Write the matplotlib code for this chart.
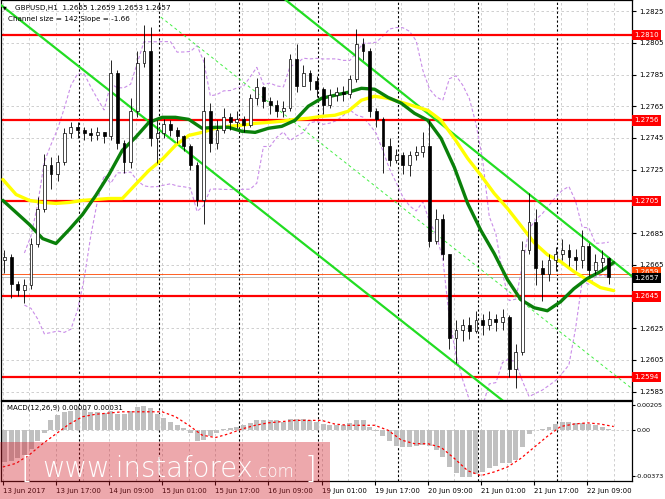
import numpy as np
import pandas as pd
import matplotlib
matplotlib.use("Agg")
import matplotlib.pyplot as plt
from matplotlib.patches import Rectangle

# ---- price data, 2-hour candles (hours counted from 13 Jun 00:00, weekend skipped)
first_open = 1.2668
closes = [
    1.2670, 1.2653, 1.2649, 1.2652, 1.2678, 1.2700, 1.2728, 1.2722, 1.2730, 1.2748,
    1.2752, 1.2750, 1.2748, 1.2747, 1.2749, 1.2746, 1.2786, 1.2742, 1.2730, 1.2762,
    1.2792, 1.2800, 1.2745, 1.2748, 1.2754, 1.2750, 1.2746, 1.2740, 1.2728, 1.2706,
    1.2762, 1.2742, 1.2750, 1.2758, 1.2755, 1.2757, 1.2753, 1.2770, 1.2777, 1.2768,
    1.2766, 1.2762, 1.2764, 1.2795, 1.2778, 1.2786, 1.2781, 1.2776, 1.2766, 1.2772,
    1.2774, 1.2773, 1.2782, 1.2804, 1.2800, 1.2762, 1.2757, 1.2740, 1.2731, 1.2734,
    1.2728, 1.2734, 1.2736, 1.2740, 1.2680, 1.2694, 1.2672, 1.2619, 1.2624, 1.2627,
    1.2623, 1.2630, 1.2627, 1.2631, 1.2629, 1.2632, 1.2599, 1.2610, 1.2674, 1.2692,
    1.2663, 1.2659, 1.2668, 1.2672, 1.2674, 1.2670, 1.2668, 1.2677, 1.2662, 1.2667,
    1.2669, 1.2657]
highs = [
    1.2674, 1.2672, 1.2655, 1.2656, 1.2682, 1.2708, 1.2735, 1.2733, 1.2734, 1.2751,
    1.2755, 1.2755, 1.2752, 1.2751, 1.2752, 1.2749, 1.2794, 1.2788, 1.2744, 1.2770,
    1.2800, 1.2816, 1.2815, 1.2756, 1.2757, 1.2756, 1.2752, 1.2747, 1.2741, 1.2730,
    1.2796, 1.2767, 1.2756, 1.2764, 1.2761, 1.2762, 1.2759, 1.2773, 1.2783, 1.2778,
    1.2771, 1.2769, 1.2768, 1.2798, 1.2804, 1.2791, 1.2788, 1.2784, 1.2777, 1.2776,
    1.2777, 1.2778, 1.2785, 1.2814, 1.2808, 1.2802, 1.2764, 1.2758, 1.2745, 1.2738,
    1.2736, 1.2737, 1.2740, 1.2749, 1.2756, 1.2700, 1.2697, 1.2672, 1.2630, 1.2631,
    1.2632, 1.2636, 1.2634, 1.2636, 1.2634, 1.2637, 1.2633, 1.2615, 1.2680, 1.2710,
    1.2700, 1.2668, 1.2672, 1.2676, 1.2681, 1.2678, 1.2675, 1.2687, 1.2679, 1.2672,
    1.2674, 1.2670]
lows = [
    1.2660, 1.2644, 1.2645, 1.2641, 1.2650, 1.2676, 1.2698, 1.2713, 1.2718, 1.2728,
    1.2745, 1.2745, 1.2744, 1.2743, 1.2744, 1.2742, 1.2744, 1.2738, 1.2723, 1.2726,
    1.2758, 1.2790, 1.2740, 1.2729, 1.2745, 1.2746, 1.2742, 1.2737, 1.2725, 1.2702,
    1.2691, 1.2736, 1.2738, 1.2748, 1.2750, 1.2751, 1.2749, 1.2752, 1.2766, 1.2764,
    1.2760, 1.2758, 1.2758, 1.2762, 1.2774, 1.2778, 1.2775, 1.2771, 1.2760, 1.2764,
    1.2768, 1.2768, 1.2770, 1.2780, 1.2794, 1.2758, 1.2752, 1.2723, 1.2727, 1.2729,
    1.2722, 1.2721, 1.2731, 1.2733, 1.2676, 1.2678, 1.2668, 1.2612, 1.2603, 1.2617,
    1.2618, 1.2622, 1.2621, 1.2624, 1.2623, 1.2624, 1.2594, 1.2587, 1.2608, 1.2672,
    1.2652, 1.2642, 1.2655, 1.2661, 1.2668, 1.2664, 1.2662, 1.2663, 1.2658, 1.2659,
    1.2661, 1.2653]

# moving averages every 4 hours
ma_hours = list(range(1, 186, 4))
yellow_ma = [
    1.27188, 1.27093, 1.27056, 1.27043, 1.27037, 1.27043, 1.27056, 1.27062, 1.27068, 1.27068,
    1.27157, 1.27245, 1.27315, 1.27403, 1.27466, 1.27485, 1.27511, 1.27523, 1.27530, 1.27542,
    1.27548, 1.27555, 1.27567, 1.27574, 1.27586, 1.27593, 1.27618, 1.27688, 1.27713, 1.27700,
    1.27675, 1.27650, 1.27624, 1.27561, 1.27447, 1.27321, 1.27214, 1.27100, 1.27005, 1.26898,
    1.26790, 1.26714, 1.26670, 1.26607, 1.26556, 1.26506, 1.26487]
green_ma = [
    1.27056, 1.26980, 1.26904, 1.26815, 1.26784, 1.26872, 1.26967, 1.27087, 1.27220, 1.27372,
    1.27454, 1.27548, 1.27580, 1.27580, 1.27567, 1.27511, 1.27517, 1.27517, 1.27492, 1.27485,
    1.27511, 1.27523, 1.27561, 1.27650, 1.27700, 1.27719, 1.27738, 1.27763, 1.27757, 1.27706,
    1.27669, 1.27605, 1.27561, 1.27447, 1.27264, 1.27037, 1.26866, 1.26721, 1.26556, 1.26430,
    1.26379, 1.26360, 1.26417, 1.26499, 1.26563, 1.26607, 1.26664]

# MACD
macd_hist = [
    -0.0026, -0.0025, -0.0023, -0.0020, -0.0015, -0.0009, -0.0002, 0.0008, 0.0012, 0.0015,
    0.0016, 0.0017, 0.0017, 0.0015, 0.0015, 0.0014, 0.0016, 0.0013, 0.0013, 0.0016,
    0.0019, 0.0020, 0.0018, 0.0013, 0.0010, 0.0007, 0.0004, 0.0002, -0.0002, -0.0009,
    -0.0008, -0.0005, -0.0002, 0.0001, 0.0002, 0.0003, 0.0004, 0.0006, 0.0008, 0.0008,
    0.0008, 0.0008, 0.0007, 0.0009, 0.0009, 0.0009, 0.0008, 0.0007, 0.0005, 0.0004,
    0.0004, 0.0004, 0.0006, 0.0008, 0.0008, 0.0003, -0.0001, -0.0005, -0.0009, -0.0013,
    -0.0014, -0.0014, -0.0013, -0.0012, -0.0013, -0.0016, -0.0022, -0.0030, -0.0035, -0.0038,
    -0.0038, -0.0036, -0.0034, -0.0031, -0.0029, -0.0027, -0.0027, -0.0024, -0.0014, -0.0003,
    0.0000, 0.0001, 0.0003, 0.0005, 0.0007, 0.0007, 0.0006, 0.0006, 0.0005, 0.0004,
    0.0003, 0.0001]
macd_signal = [
    -0.0030, -0.0027, -0.0020, -0.0011, -0.0003, 0.0005, 0.0011, 0.0013, 0.0014, 0.0015,
    0.0015, 0.0015, 0.0015, 0.0011, 0.0004, -0.0004, -0.0006, -0.0003, 0.0001, 0.0004,
    0.0006, 0.0007, 0.0008, 0.0008, 0.0008, 0.0005, 0.0004, 0.0004, 0.0004, 0.0000,
    -0.0008, -0.0011, -0.0011, -0.0014, -0.0023, -0.0033, -0.0037, -0.0034, -0.0030, -0.0023,
    -0.0014, -0.0005, 0.0003, 0.0005, 0.0006, 0.0005, 0.0003]

# regression channel anchors (hour, price)
chan_upper = [(86.2, 1.28320), (191.4, 1.26562)]
chan_lower = [(0.45, 1.28288), (151.7, 1.25791)]
chan_mid = [(48.6, 1.28212), (191.4, 1.25854)]

levels = [1.2810, 1.2756, 1.2705, 1.2645, 1.2594]
bid, ask = 1.2657, 1.2659

tick_hours = [1, 17, 33, 49, 65, 81, 97, 113, 129, 145, 161, 177]
tick_labels = ["13 Jun 2017", "13 Jun 17:00", "14 Jun 09:00", "15 Jun 01:00",
               "15 Jun 17:00", "16 Jun 09:00", "19 Jun 01:00", "19 Jun 17:00",
               "20 Jun 09:00", "21 Jun 01:00", "21 Jun 17:00", "22 Jun 09:00"]
day_hours = [24, 48, 72, 96, 120, 144, 168]
price_ticks = [1.2585 + 0.002 * i for i in range(13)]

W, H = 665, 499
fx = lambda px: px / W
fy = lambda py: 1 - py / H

fig = plt.figure(figsize=(6.65, 4.99), dpi=100)
ax = fig.add_axes([0.0015, fy(400), fx(632) - 0.0015, 400 / H])
axm = fig.add_axes([0.0015, fy(481), fx(632) - 0.0015, 80 / H])

xl = (0.45, 190.5)
grid_kw = dict(color="#c8c8c8", lw=0.6, ls=(0, (3, 3)), zorder=0)
sep_kw = dict(color="black", lw=0.8, ls=(0, (2, 2)), zorder=1)

# ---- main panel
n = len(closes)
hrs = np.arange(n) * 2 + 1.5
c = np.array(closes)
o = np.array([first_open] + closes[:-1])
hi = np.array(highs)
lo = np.array(lows)

for p in price_ticks:
    ax.axhline(p, **grid_kw)
for h in range(1, 190, 8):
    ax.axvline(h, **grid_kw)
    axm.axvline(h, **grid_kw)
for h in day_hours:
    ax.axvline(h, **sep_kw)
    axm.axvline(h, **sep_kw)

# bollinger bands from closes
cs = pd.Series(closes)
mid = cs.rolling(10, min_periods=4).mean()
sd = cs.rolling(10, min_periods=4).std(ddof=0)
for band in (mid + 2 * sd, mid - 2 * sd):
    ax.plot(hrs, band, color="#c98de8", lw=0.8, ls=(0, (3, 2)), zorder=2)

for lv in levels:
    ax.axhline(lv, color="#ff0000", lw=1.6, zorder=2)
ax.axhline(ask, color="#ff4500", lw=0.6, zorder=2)
ax.axhline(bid, color="#b0b0b0", lw=0.6, zorder=2)

for line in (chan_upper, chan_lower):
    ax.plot([line[0][0], line[1][0]], [line[0][1], line[1][1]], color="#22dd22", lw=1.6, zorder=3)
ax.plot([chan_mid[0][0], chan_mid[1][0]], [chan_mid[0][1], chan_mid[1][1]],
        color="#44ee44", lw=0.7, ls=(0, (3, 3)), zorder=3)

ax.plot(ma_hours, yellow_ma, color="#ffff00", lw=2.4, zorder=4, solid_capstyle="round")
ax.plot(ma_hours, green_ma, color="#0a800a", lw=2.4, zorder=4, solid_capstyle="round")

ax.vlines(hrs, lo, hi, color="black", lw=0.6, zorder=5)
up = c >= o
body = np.maximum(np.abs(c - o), 0.00003)
ax.bar(hrs, body, bottom=np.minimum(o, c), width=0.85,
       color=np.where(up, "white", "black"), edgecolor="black", lw=0.5, zorder=6)

ax.set_xlim(*xl)
ax.set_ylim(1.25797, 1.28320)
ax.yaxis.tick_right()
ax.set_yticks(price_ticks)
ax.set_yticklabels(["" if abs(p - 1.2645) < 1e-6 or abs(p - 1.2705) < 1e-6 else f"{p:.4f}"
                    for p in price_ticks])
ax.tick_params(axis="y", length=3, width=0.8, pad=2, labelsize=5)
ax.set_xticks([])
for s in ax.spines.values():
    s.set_linewidth(0.9)

ytr = ax.get_yaxis_transform()
for lv in levels:
    ax.annotate(f"{lv:.4f}", xy=(1, lv), xycoords=ytr, xytext=(1.5, 0), textcoords="offset points",
                ha="left", va="center", fontsize=5, color="white", annotation_clip=False,
                bbox=dict(boxstyle="square,pad=0.3", fc="#ff0000", ec="none"), zorder=10)
ax.annotate(f"{ask:.4f}", xy=(1, ask), xycoords=ytr, xytext=(1.5, 1.5), textcoords="offset points",
            ha="left", va="center", fontsize=5, color="white", annotation_clip=False,
            bbox=dict(boxstyle="square,pad=0.3", fc="#ff4500", ec="none"), zorder=10)
ax.annotate(f"{bid:.4f}", xy=(1, bid), xycoords=ytr, xytext=(1.5, -0.5), textcoords="offset points",
            ha="left", va="center", fontsize=5, color="white", annotation_clip=False,
            bbox=dict(boxstyle="square,pad=0.3", fc="black", ec="none"), zorder=11)

# ---- MACD panel
axm.axhline(0, **grid_kw)
axm.bar(hrs, macd_hist, width=1.5, color="#c0c0c0", zorder=2)
axm.plot(ma_hours, macd_signal, color="#ff0000", lw=0.9, ls=(0, (2, 2)), zorder=3)
axm.set_xlim(*xl)
axm.set_ylim(-0.00414, 0.00238)
axm.yaxis.tick_right()
axm.set_yticks([0.00205, 0.0, -0.00373])
axm.set_yticklabels(["0.00205", "0.00", "-0.00373"])
axm.tick_params(axis="y", length=2, width=0.8, pad=1, labelsize=4.6)
axm.set_xticks(tick_hours)
axm.set_xticklabels(tick_labels, ha="left")
axm.tick_params(axis="x", length=3, width=0.8, pad=2, labelsize=5)
for s in axm.spines.values():
    s.set_linewidth(0.9)
axm.text(0.01, 0.92, "MACD(12,26,9) 0.00007 0.00031", transform=axm.transAxes,
         fontsize=5, va="center", ha="left", zorder=10)

# ---- header
fig.text(fx(3), fy(8), "\u25bc", fontsize=3.5, va="center", ha="left")
fig.text(fx(15), fy(8), "GBPUSD,H1  1.2655 1.2659 1.2653 1.2657", fontsize=5.2, va="center", ha="left")
fig.text(fx(8), fy(19), "Channel size = 142 Slope = -1.66", fontsize=5.2, va="center", ha="left")

# ---- watermark
fig.patches.append(Rectangle((0, fy(499)), fx(330), 57 / H, transform=fig.transFigure,
                             facecolor=(0.82, 0.1, 0.15), alpha=0.38, edgecolor="none", zorder=20))
fig.text(fx(20), fy(478), "[", fontsize=22, color="white", fontweight="light", va="baseline", zorder=21)
fig.text(fx(42), fy(477), "www.instaforex", fontsize=19.8, color="white", fontweight="light",
         va="baseline", zorder=21)
fig.text(fx(254), fy(477), ".com", fontsize=12, color="white", fontweight="light", va="baseline", zorder=21)
fig.text(fx(305), fy(478), "]", fontsize=22, color="white", fontweight="light", va="baseline", zorder=21)

fig.savefig("out.png", dpi=100, facecolor="white")
